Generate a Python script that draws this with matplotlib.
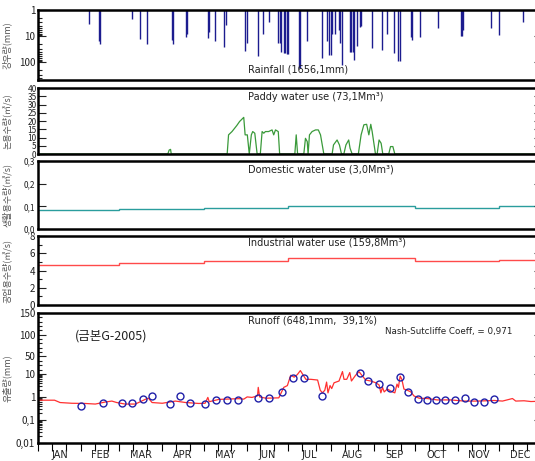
import numpy as np
import matplotlib
matplotlib.use("Agg")
import matplotlib.pyplot as plt
import matplotlib.ticker as mticker
import matplotlib.transforms as mtransforms

plt.rcParams['font.family'] = ['Noto Sans CJK KR', 'DejaVu Sans']
plt.rcParams['font.size'] = 7

# ---- data (day of year, value) ----
rain_days = [38, 45, 46, 69, 75, 80, 98, 99, 108, 109, 124, 125, 129, 136, 137, 151, 152,
             160, 164, 168, 175, 176, 177, 179, 180, 181, 182, 190, 191, 196, 207, 210,
             212, 213, 214, 216, 219, 220, 221, 227, 228, 229, 230, 232, 234, 235, 243,
             250, 254, 259, 262, 263, 271, 272, 278, 291, 307, 308, 309, 329, 335, 352]
rain_mm = [3.4, 15, 20, 2.2, 13, 20, 14, 20, 11, 8, 12, 7, 15, 27, 3.8, 37, 18,
           58, 8.4, 2.9, 19, 19, 40, 44, 44, 49, 49, 170, 170, 16, 70, 16,
           54, 54, 8, 8, 6, 19, 130, 40, 40, 40, 83, 25, 4.4, 4.2, 29,
           35, 8, 44, 90, 90, 11, 14, 11, 5, 10, 10, 6, 5, 9, 2.8]

paddy_days = [1, 95, 96, 97, 97.5, 138, 139, 141.5, 145, 147, 150, 151, 152.6, 154, 155.5,
              156.5, 158, 159.7, 162, 163.3, 164.5, 165.7, 168, 170.5, 171.7, 173, 175,
              176, 187, 188, 189, 193.5, 194.7, 196, 196.6, 197.6, 199.5, 202, 204, 205.6,
              208, 214, 215, 217.6, 219.3, 220.8, 222.5, 224, 226, 227, 228.5, 233, 235,
              237, 239, 240.6, 242, 243, 245.4, 246.6, 248, 249.5, 250.7, 255, 256.3, 258,
              259.4, 365]
paddy_q = [0, 0, 2.4, 2.8, 0, 0, 11.6, 13.6, 17.3, 19.7, 22.2, 11.6, 11.6, 0, 11.6,
           13.6, 12.6, 0, 0, 13.6, 12.6, 13.6, 13.6, 14.6, 11.6, 14.6, 13.6,
           0, 0, 11.6, 0, 0, 9.5, 7.5, 0, 11.6, 13.6, 14.6, 14.6, 11.6,
           0, 0, 5.5, 8.5, 5.5, 0, 0, 5.5, 8.5, 3.5, 0, 0, 11.6,
           17.7, 18.0, 11.6, 18.0, 13.6, 0, 0, 8.5, 6.5, 0, 0, 4.5, 4.5,
           0, 0]

# water use steps (start day of each step, value)
use_steps = [1, 60, 121, 182, 274, 335, 366]
domestic_q = [0.086, 0.088, 0.093, 0.101, 0.094, 0.101]
industrial_q = [4.67, 4.88, 5.08, 5.5, 5.05, 5.2]

sim_days = [1, 13, 17, 25.5, 35, 42.5, 49.7, 54.5, 58, 64, 71.5, 79, 81, 83.6, 91, 100.5,
            108, 117.4, 122, 124, 125, 132, 146.5, 150, 152.5, 156, 160, 160.5, 161.5,
            166, 175.4, 176.6, 179, 181.6, 184, 186.5, 188.8, 191, 192.5, 195, 198.6,
            203.5, 205.4, 207, 208.7, 210, 211, 212.5, 213.7, 215.4, 219, 221.5, 222.6,
            224.6, 226.8, 228, 231, 233.5, 236, 238.3, 242, 245.7, 248, 249.3, 250.5,
            251.7, 254, 257.7, 259.4, 261, 262, 263.3, 264.5, 266, 268, 271, 273.3, 277,
            283, 290, 300, 309.7, 319.3, 331.4, 337.4, 344.6, 347, 353, 358, 365]
sim_mm = [0.72, 0.72, 0.57, 0.53, 0.52, 0.49, 0.6, 0.66, 0.57, 0.49, 0.49, 0.8, 0.88, 0.57,
          0.53, 0.66, 0.57, 0.52, 0.53, 0.95, 0.62, 0.78, 0.84, 0.8, 1.0, 0.95, 1.12, 2.6,
          1.0, 0.88, 0.91, 1.3, 2.6, 3.1, 8.7, 7.2, 9.3, 17.6, 10, 5.8, 5.8,
          5.4, 1.95, 1.5, 1.95, 4.4, 1.5, 3.1, 2.3, 4.1, 4.9, 15.3, 5.8,
          5.8, 13, 4.9, 8.7, 15, 8, 5.4, 4.9, 4.1, 3.3, 1.5, 2.6,
          1.65, 2.2, 1.65, 1.5, 3.6, 2.6, 8, 5.8, 2.2, 2.0, 1.65, 1.1, 0.88,
          0.85, 0.74, 0.74, 0.66, 0.66, 0.7, 0.66, 0.85, 0.66, 0.68, 0.63, 0.65]

obs_days = [32, 48, 62, 69, 77, 83.6, 96.6, 104, 111, 122, 130, 138, 146, 160, 168,
            178, 186, 194, 207, 234, 240, 248, 255.6, 263.5, 269, 276, 283, 289, 296,
            303, 310, 317, 324, 331]
obs_mm = [0.41, 0.57, 0.55, 0.55, 0.85, 1.1, 0.47, 1.07, 0.52, 0.47, 0.74, 0.72, 0.70,
          0.94, 0.88, 1.65, 6.3, 6.3, 1.1, 11.5, 5, 3.6, 2.56, 7, 1.65, 0.82, 0.77,
          0.72, 0.74, 0.74, 0.9, 0.61, 0.59, 0.85]

months = ['JAN', 'FEB', 'MAR', 'APR', 'MAY', 'JUN', 'JUL', 'AUG', 'SEP', 'OCT', 'NOV', 'DEC']
month_len = [31, 28, 31, 30, 31, 30, 31, 31, 30, 31, 30, 31]

# ---- figure ----
fig = plt.figure(figsize=(5.35, 4.61), dpi=100)
L, W = 38 / 535, 504 / 535


def panel(top, bottom):
    return fig.add_axes([L, 1 - bottom / 461, W, (bottom - top) / 461])


ax_r = panel(10, 80)
ax_p = panel(88, 154)
ax_d = panel(161, 229)
ax_i = panel(236, 305)
ax_q = panel(313, 443)
axes = [ax_r, ax_p, ax_d, ax_i, ax_q]

month_start = np.concatenate([[1], 1 + np.cumsum(month_len)])
comma = mticker.FuncFormatter(lambda v, p: ('%g' % v).replace('.', ','))

for ax in axes:
    ax.set_xlim(1, 366)
    for s in ax.spines.values():
        s.set_linewidth(1.8)
    ax.tick_params(axis='y', which='both', direction='in', right=True,
                   labelsize=7, colors='#222222', width=0.8, pad=2)
    ax.tick_params(axis='y', which='major', length=6)
    ax.tick_params(axis='y', which='minor', length=3)
    if ax is not ax_q:
        ax.set_xticks([])

ylab_kw = dict(fontsize=6.5, color='#555555', family=['Noto Sans CJK KR', 'DejaVu Sans'])
txt_kw = dict(fontsize=7, color='#222222', family=['DejaVu Sans'])

# rainfall
ax_r.vlines(rain_days, 1, rain_mm, color='#1c1c8f', linewidth=1.0)
ax_r.set_yscale('log')
ax_r.set_ylim(480, 1)
ax_r.yaxis.set_major_locator(mticker.FixedLocator([1, 10, 100]))
ax_r.yaxis.set_major_formatter(comma)
ax_r.yaxis.set_minor_locator(mticker.LogLocator(subs=np.arange(2, 10)))
ax_r.yaxis.set_minor_formatter(mticker.NullFormatter())
ax_r.set_ylabel('강우량(mm)', **ylab_kw)
ax_r.text(0.417, 0.1, 'Rainfall (1656,1mm)', transform=ax_r.transAxes, **txt_kw)

# paddy
ax_p.plot(paddy_days, paddy_q, color='#3a9a3a', linewidth=0.9)
ax_p.set_ylim(0, 40)
ax_p.set_yticks(np.arange(0, 41, 5))
ax_p.tick_params(axis='y', labelsize=6, pad=1)
ax_p.set_ylabel('논용수량(㎥/s)', **ylab_kw)
ax_p.text(0.417, 0.86, 'Paddy water use (73,1Mm³)', transform=ax_p.transAxes, va='center', **txt_kw)

# domestic
ax_d.stairs(domestic_q, use_steps, color='#2a9d9d', linewidth=1.0, baseline=None)
ax_d.set_ylim(0, 0.3)
ax_d.set_yticks([0, 0.1, 0.2, 0.3])
ax_d.yaxis.set_major_formatter(mticker.FuncFormatter(lambda v, p: ('%.1f' % v).replace('.', ',')))
ax_d.tick_params(axis='y', labelsize=6)
ax_d.set_ylabel('생활용수량(㎥/s)', **ylab_kw)
ax_d.text(0.417, 0.87, 'Domestic water use (3,0Mm³)', transform=ax_d.transAxes, va='center', **txt_kw)

# industrial
ax_i.stairs(industrial_q, use_steps, color='#ff4a4a', linewidth=1.0, baseline=None)
ax_i.set_ylim(0, 8)
ax_i.set_yticks([0, 2, 4, 6, 8])
ax_i.yaxis.set_minor_locator(mticker.MultipleLocator(1))
ax_i.set_ylabel('공업용수량(㎥/s)', **ylab_kw)
ax_i.text(0.417, 0.9, 'Industrial water use (159,8Mm³)', transform=ax_i.transAxes, va='center', **txt_kw)


# runoff: log up to 10, linear above
def fwd(x):
    x = np.asarray(x, dtype=float)
    return np.where(x <= 10, np.log10(np.maximum(x, 1e-12)), 1 + (x - 10) / 53.0)


def inv(y):
    y = np.asarray(y, dtype=float)
    return np.where(y <= 1, 10 ** np.minimum(y, 1), 10 + (y - 1) * 53.0)


ax_q.plot(sim_days, sim_mm, color='#ff3030', linewidth=0.9)
ax_q.plot(obs_days, obs_mm, linestyle='none', marker='o', markersize=5,
          markerfacecolor='none', markeredgecolor='#2020a8', markeredgewidth=1.0)
ax_q.set_yscale('function', functions=(fwd, inv))
ax_q.set_ylim(0.01, 150)
ax_q.yaxis.set_major_locator(mticker.FixedLocator([0.01, 0.1, 1, 10, 50, 100, 150]))
ax_q.yaxis.set_major_formatter(comma)
minors = [m * d for d in (0.01, 0.1, 1) for m in range(2, 10)] + [20, 30, 40, 60, 70, 80, 90, 110, 120, 130, 140]
ax_q.yaxis.set_minor_locator(mticker.FixedLocator(minors))
ax_q.yaxis.set_minor_formatter(mticker.NullFormatter())
ax_q.set_ylabel('유출량(mm)', **ylab_kw)
ax_q.text(0.417, 0.946, 'Runoff (648,1mm,  39,1%)', transform=ax_q.transAxes, va='center', **txt_kw)
ax_q.text(0.688, 0.86, 'Nash-Sutcliffe Coeff, = 0,971', transform=ax_q.transAxes,
          va='center', fontsize=6.3, color='#222222', family=['DejaVu Sans'])
ax_q.text(0.073, 0.82, '(금본G-2005)', transform=ax_q.transAxes, va='center',
          fontsize=9, color='#222222')

for ax in axes:
    ax.yaxis.set_label_coords(-0.052, 0.5)

ax_q.set_xticks(month_start[:-1])
ax_q.set_xticklabels([])
ax_q.set_xticks([s + d for s in month_start[:-1] for d in (10, 20)], minor=True)
ax_q.tick_params(axis='x', which='both', direction='out', length=6, width=0.8)
trans = mtransforms.blended_transform_factory(ax_q.transData, ax_q.transAxes)
for m, s, n in zip(months, month_start[:-1], month_len):
    ax_q.text(s + n / 2, -0.09, m, transform=trans, ha='center', va='center',
              fontsize=7, color='#222222', family=['DejaVu Sans'])

fig.savefig('out.png', dpi=100)
